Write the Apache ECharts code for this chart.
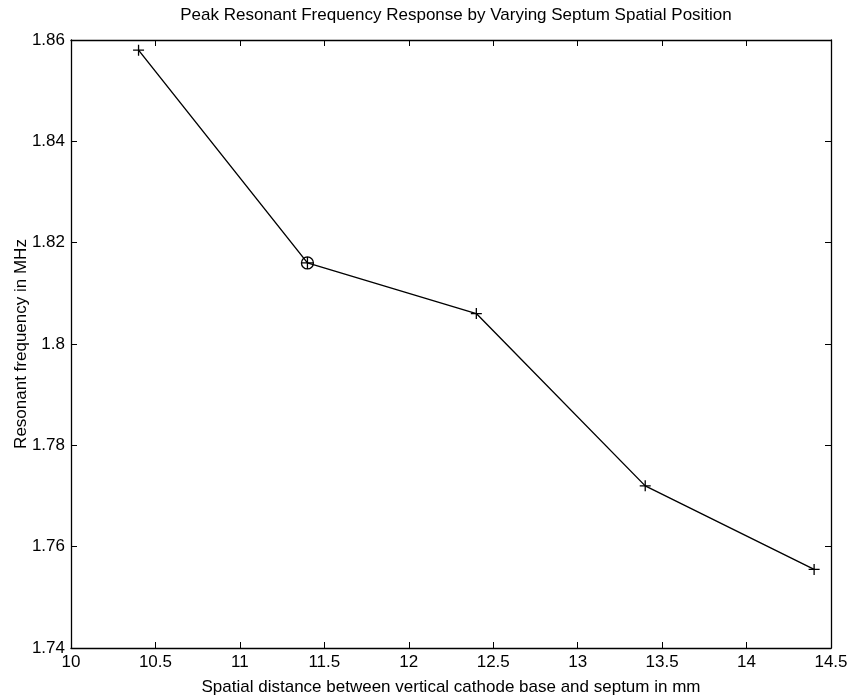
<!DOCTYPE html>
<html>
<head>
<meta charset="utf-8">
<script src="https://cdn.jsdelivr.net/npm/echarts@6/dist/echarts.min.js"></script>
<style>html,body{margin:0;padding:0;background:#fff;}#c{width:852px;height:700px;}</style>
</head>
<body>
<div id="c"></div>
<script>
var xValues = [10.4, 11.4, 12.4, 13.4, 14.4];
var yValues = [1.858, 1.816, 1.806, 1.772, 1.7555];
var circledIndex = 1;
var titleText = 'Peak Resonant Frequency Response by Varying Septum Spatial Position';
var xLabel = 'Spatial distance between vertical cathode base and septum in mm';
var yLabel = 'Resonant frequency in MHz';

var plus = 'path://M0,5L10,5M5,0L5,10';
var circlePlus = 'path://M0,5A5,5 0 1,0 10,5A5,5 0 1,0 0,5ZM0,5L10,5M5,0L5,10';

var pts = xValues.map(function (x, i) {
  return {
    value: [x, yValues[i]],
    symbol: i === circledIndex ? circlePlus : plus,
    symbolSize: i === circledIndex ? 12 : 11
  };
});

var font = 'Liberation Sans, Arial, sans-serif';
var axisCommon = {
  axisLine: { show: true, lineStyle: { color: '#000', width: 1.3 } },
  axisTick: { show: true, inside: true, length: 6, lineStyle: { color: '#000', width: 1 } },
  splitLine: { show: false }
};
var fmt = function (v) { return String(parseFloat(v.toFixed(2))); };

var chart = echarts.init(document.getElementById('c'));
chart.setOption({
  animation: false,
  backgroundColor: '#fff',
  title: {
    text: titleText, left: 451, top: 2, textAlign: 'center',
    textStyle: { fontFamily: font, fontSize: 17, fontWeight: 'normal', color: '#000' }
  },
  grid: { left: 71, right: 21, top: 40, bottom: 52, show: false, containLabel: false, outerBoundsMode: 'none' },
  xAxis: [
    Object.assign({
      type: 'value', min: 10, max: 14.5, interval: 0.5, position: 'bottom',
      name: xLabel, nameLocation: 'middle', nameGap: 31, nameMoveOverlap: false,
      nameTextStyle: { fontFamily: font, fontSize: 17, color: '#000' },
      axisLabel: { fontFamily: font, fontSize: 17, color: '#000', margin: 6, formatter: fmt }
    }, axisCommon),
    Object.assign({
      type: 'value', min: 10, max: 14.5, interval: 0.5, position: 'top',
      axisLabel: { show: false }
    }, axisCommon)
  ],
  yAxis: [
    Object.assign({
      type: 'value', min: 1.74, max: 1.86, interval: 0.02, position: 'left',
      name: yLabel, nameLocation: 'middle', nameGap: 41, nameRotate: 90, nameMoveOverlap: false,
      nameTextStyle: { fontFamily: font, fontSize: 17, color: '#000' },
      axisLabel: { fontFamily: font, fontSize: 17, color: '#000', margin: 6, formatter: fmt }
    }, axisCommon),
    Object.assign({
      type: 'value', min: 1.74, max: 1.86, interval: 0.02, position: 'right',
      axisLabel: { show: false }
    }, axisCommon)
  ],
  series: [{
    type: 'line',
    data: pts,
    lineStyle: { color: '#000', width: 1.4 },
    itemStyle: { color: 'rgba(0,0,0,0)', borderColor: '#000', borderWidth: 1.3 },
    showAllSymbol: true,
    z: 5
  }]
});
</script>
</body>
</html>
